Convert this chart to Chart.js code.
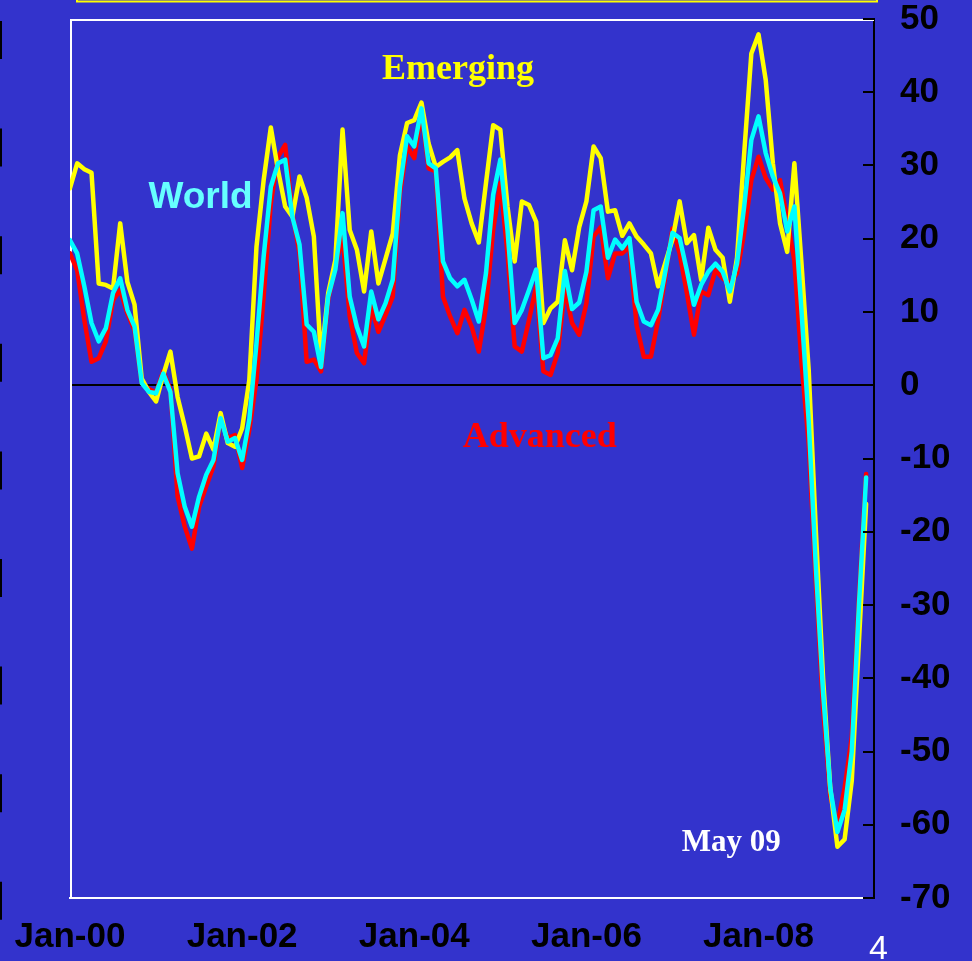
<!DOCTYPE html>
<html>
<head>
<meta charset="utf-8">
<script src="https://cdn.jsdelivr.net/npm/chart.js@4.4.0/dist/chart.umd.min.js"></script>
<style>
  html, body { margin: 0; padding: 0; background: #3333CC; }
  canvas { display: block; }
</style>
</head>
<body>
<canvas id="c" width="972" height="961" style="width:972px;height:961px"></canvas>
<script>
// Monthly year-on-year growth (%), Jan-00 onward
const emerging = [26.9, 30.3, 29.5, 29.0, 13.9, 13.7, 13.2, 22.1, 14.1, 11.0, 0.9, -0.9, -2.2, 1.4, 4.6, -1.6, -5.6, -10.0, -9.7, -6.6, -8.8, -3.8, -7.9, -8.4,
  -5.9, 0.7, 18.9, 28.0, 35.2, 29.4, 24.4, 23.0, 28.5, 25.6, 20.3, 3.5, 12.6, 17.1, 34.9, 21.2, 18.5, 12.8, 21.0, 13.9, 17.3, 20.7, 31.4, 35.8,
  36.2, 38.6, 33.0, 29.8, 30.5, 31.1, 32.1, 25.5, 22.1, 19.5, 27.6, 35.5, 34.9, 24.4, 16.9, 25.1, 24.6, 22.3, 8.5, 10.5, 11.4, 19.8, 15.7, 21.6,
  25.1, 32.6, 31.0, 23.7, 23.9, 20.4, 22.1, 20.3, 19.2, 18.0, 13.5, 16.7, 19.9, 25.1, 19.4, 20.5, 14.4, 21.5, 18.5, 17.4, 11.4, 17.4, 31.7, 45.3,
  47.9, 41.7, 30.3, 22.1, 18.2, 30.3, 16.5, 2.0, -20.0, -40.0, -55.0, -63.0, -62.0, -54.0, -35.0, -16.2];
const world = [19.8, 18.0, 13.5, 8.5, 6.0, 7.8, 12.6, 14.6, 10.3, 8.0, 0.3, -0.9, -1.1, 1.6, -0.9, -12.0, -16.6, -19.3, -15.2, -12.2, -10.2, -4.5, -7.7, -7.2,
  -10.2, -4.7, 5.7, 17.6, 27.1, 30.3, 30.8, 23.0, 19.2, 8.3, 7.3, 2.5, 12.1, 15.8, 23.5, 12.1, 8.0, 5.3, 12.8, 9.0, 11.2, 14.4, 27.1, 34.0,
  32.6, 37.8, 30.3, 29.6, 16.9, 14.6, 13.5, 14.4, 11.7, 8.7, 15.3, 26.0, 30.8, 21.2, 8.5, 10.3, 13.0, 15.8, 3.7, 4.1, 6.4, 15.6, 10.4, 11.3,
  15.5, 23.9, 24.4, 17.4, 19.9, 18.7, 20.1, 11.4, 8.7, 8.2, 10.3, 15.5, 20.8, 20.1, 15.7, 11.0, 13.7, 15.5, 16.6, 15.5, 12.8, 16.6, 24.4, 33.5,
  36.7, 31.7, 28.5, 26.2, 21.0, 24.4, 10.0, -5.0, -25.0, -42.0, -55.0, -61.0, -58.0, -50.0, -30.0, -12.6];
const advanced = [18.0, 15.7, 8.9, 3.2, 3.7, 6.0, 11.6, 13.0, 9.8, 7.5, 0.3, -0.5, -1.0, 1.9, -0.6, -15.2, -19.3, -22.3, -16.6, -13.8, -11.1, -4.7, -7.2, -6.8,
  -11.3, -6.1, 0.7, 12.1, 24.8, 31.2, 32.8, 23.5, 18.0, 3.2, 3.5, 1.9, 11.7, 16.2, 20.3, 9.4, 4.4, 3.0, 10.7, 7.3, 9.6, 12.1, 26.2, 32.6,
  31.0, 37.4, 29.6, 29.2, 12.1, 9.4, 7.1, 10.3, 8.0, 4.6, 10.7, 21.2, 27.6, 18.0, 5.3, 4.6, 8.9, 13.5, 1.9, 1.4, 4.4, 13.2, 8.5, 6.9,
  11.2, 20.3, 21.6, 14.6, 18.0, 18.0, 18.9, 8.2, 3.9, 3.9, 8.9, 14.8, 21.4, 18.0, 12.6, 6.9, 12.8, 12.3, 15.7, 14.6, 13.9, 15.3, 20.8, 28.0,
  31.2, 28.3, 26.7, 28.0, 22.6, 17.0, 3.0, -8.0, -27.0, -44.0, -56.0, -60.0, -55.0, -48.0, -29.0, -12.1];

const xTickMonths = [0, 24, 48, 72, 96];
const xTickLabels = ['Jan-00', 'Jan-02', 'Jan-04', 'Jan-06', 'Jan-08'];
const yMin = -70, yMax = 50, yStep = 10;

// Text annotations anchored in data coordinates [month index, value]
const notes = [
  { text: 'Emerging', at: [54.1, 41.8], color: '#FFFF00', font: 'bold 36px "Liberation Serif", "Times New Roman", serif' },
  { text: 'World', at: [18.2, 24.2], color: '#66FFFF', font: 'bold 37px "Liberation Sans", Arial, sans-serif' },
  { text: 'Advanced', at: [65.5, -8.4], color: '#FF0000', font: 'bold 36px "Liberation Serif", "Times New Roman", serif' },
  { text: 'May 09', at: [92.2, -63.6], color: '#FFFFFF', font: 'bold 31px "Liberation Serif", "Times New Roman", serif' }
];

const toPoints = arr => arr.map((v, i) => ({ x: i, y: v }));
const axisFont = { family: '"Liberation Sans", Arial, sans-serif', size: 35, weight: 'bold' };

const bgPlugin = {
  id: 'bg',
  beforeDraw(chart) {
    const c = chart.ctx;
    c.save();
    c.fillStyle = '#3333CC';
    c.fillRect(0, 0, chart.width, chart.height);
    // yellow box edge at the very top
    c.strokeStyle = '#FFFF00';
    c.lineWidth = 2;
    c.strokeRect(77, -20, 800, 21.5);
    // left edge dashes
    c.strokeStyle = '#000';
    c.lineWidth = 2;
    for (let y0 = 21; y0 < 930; y0 += 107.6) {
      c.beginPath(); c.moveTo(1, y0); c.lineTo(1, y0 + 38); c.stroke();
    }
    c.restore();
  },
  beforeDatasetsDraw(chart) {
    const c = chart.ctx, a = chart.chartArea;
    c.save();
    c.strokeStyle = '#FFFFFF';
    c.lineWidth = 2;
    c.beginPath();
    c.moveTo(a.left + 1, a.bottom);
    c.lineTo(a.left + 1, a.top + 1);
    c.lineTo(a.right, a.top + 1);
    c.stroke();
    c.restore();
  },
  afterDraw(chart) {
    const c = chart.ctx, a = chart.chartArea;
    const ys = chart.scales.y, xs = chart.scales.x;
    c.save();
    // inward tick marks on right axis
    c.strokeStyle = '#000';
    c.lineWidth = 2;
    ys.ticks.forEach(t => {
      const py = Math.round(ys.getPixelForValue(t.value));
      c.beginPath(); c.moveTo(a.right - 11, py); c.lineTo(a.right, py); c.stroke();
    });
    // annotations
    c.textAlign = 'center';
    c.textBaseline = 'alphabetic';
    notes.forEach(n => {
      c.font = n.font;
      c.fillStyle = n.color;
      c.fillText(n.text, xs.getPixelForValue(n.at[0]), ys.getPixelForValue(n.at[1]));
    });
    // page number
    c.font = '34px "Liberation Sans", Arial, sans-serif';
    c.fillStyle = '#FFFFFF';
    c.textAlign = 'left';
    c.fillText('4', 869, 959);
    c.restore();
  }
};

new Chart(document.getElementById('c'), {
  type: 'line',
  data: {
    datasets: [
      { label: 'World', data: toPoints(world), borderColor: '#00FFFF', borderWidth: 4.5, pointRadius: 0, tension: 0, order: 1, borderJoinStyle: 'round', borderCapStyle: 'round' },
      { label: 'Emerging', data: toPoints(emerging), borderColor: '#FFFF00', borderWidth: 4.5, pointRadius: 0, tension: 0, order: 2, borderJoinStyle: 'round', borderCapStyle: 'round' },
      { label: 'Advanced', data: toPoints(advanced), borderColor: '#FF0000', borderWidth: 4.5, pointRadius: 0, tension: 0, order: 3, borderJoinStyle: 'round', borderCapStyle: 'round' }
    ]
  },
  options: {
    responsive: false,
    animation: false,
    devicePixelRatio: 1,
    layout: { padding: { left: 70, top: 19, right: 0, bottom: 0 } },
    plugins: { legend: { display: false }, tooltip: { enabled: false } },
    scales: {
      x: {
        type: 'linear',
        min: 0,
        max: 112.1,
        afterBuildTicks: s => { s.ticks = xTickMonths.map(v => ({ value: v })); },
        afterFit: s => { s.height = 63; s.paddingLeft = 0; s.paddingRight = 0; },
        ticks: {
          callback: v => xTickLabels[xTickMonths.indexOf(v)],
          font: axisFont, color: '#000', maxRotation: 0, autoSkip: false, padding: 18
        },
        grid: { display: false, drawTicks: false },
        border: { display: true, color: '#FFFFFF', width: 2 }
      },
      y: {
        position: 'right',
        min: yMin, max: yMax,
        afterFit: s => { s.width = 98; s.paddingTop = 0; s.paddingBottom = 0; },
        ticks: { stepSize: yStep, font: axisFont, color: '#000', padding: 26 },
        grid: {
          drawTicks: false,
          lineWidth: 2,
          color: c => (c.tick && c.tick.value === 0) ? '#000000' : 'rgba(0,0,0,0)'
        },
        border: { display: true, color: '#000000', width: 2 }
      }
    }
  },
  plugins: [bgPlugin]
});
</script>
</body>
</html>
